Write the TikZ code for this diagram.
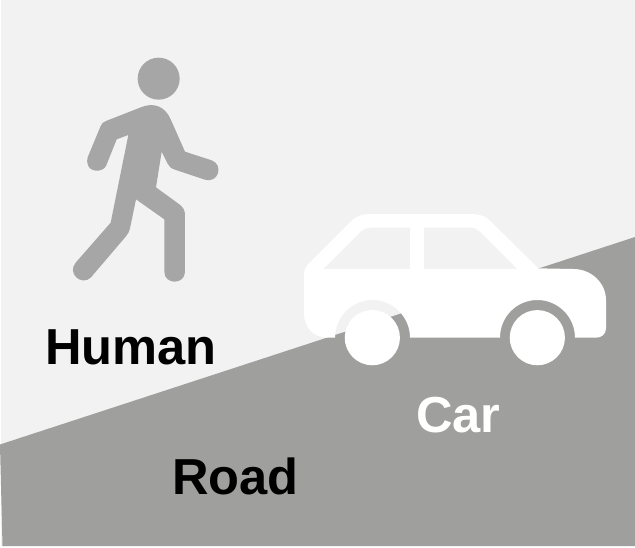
\documentclass[tikz,border=0pt]{standalone}
\usepackage{fontspec}
\setmainfont{Liberation Sans}
\definecolor{skygray}{HTML}{F2F2F2}
\definecolor{roadgray}{HTML}{9F9F9D}
\definecolor{mangray}{HTML}{A6A6A6}
\tikzset{
  lab/.style={anchor=base west,inner sep=0pt,font=\fontsize{50.6}{50}\selectfont\bfseries},
  zoomed/.style={x=0.33333pt,y=-0.33333pt}
}
\begin{document}
\begin{tikzpicture}[x=1pt,y=-1pt]
\useasboundingbox (0,0) rectangle (635,547);
\fill[white] (0,0) rectangle (635,547);
\fill[skygray] (1,0) rectangle (635,546);
\fill[roadgray] (0,444.5) -- (635,237) -- (635,546) -- (2.5,546) -- cycle;
% person
\begin{scope}[shift={(60,40)},zoomed]
\fill[mangray] (296,116) circle[radius=21pt];
\fill[mangray]
  (138,378) .. controls (128,400) and (72,400) .. (83,352)
  -- (122,258) .. controls (125,250) and (130,246) .. (138,243)
  -- (245,201) .. controls (280,187) and (315,198) .. (332,238)
  -- (375,335) -- (455,361)
  .. controls (490,373) and (478,430) .. (435,419)
  -- (345,389) .. controls (332,385) and (328,380) .. (323,371)
  -- (305,335) -- (288,442) -- (358,493)
  .. controls (370,502) and (375,512) .. (375,525)
  -- (375,695) .. controls (375,735) and (313,735) .. (313,695)
  -- (313,538) -- (228,478) -- (210,565)
  .. controls (208,575) and (204,582) .. (197,590)
  -- (93,712) .. controls (65,740) and (20,700) .. (47,668)
  -- (152,548) -- (205,285) -- (170,298) -- cycle;
\end{scope}
% car
\begin{scope}[shift={(290,200)},zoomed]
\fill[white,even odd rule]
  (42,225) .. controls (42,208) and (48,198) .. (60,187)
  -- (185,62) .. controls (200,48) and (218,42) .. (240,42)
  -- (545,42) .. controls (568,42) and (586,48) .. (600,62)
  -- (745,205) -- (850,207)
  .. controls (905,207) and (948,250) .. (948,300)
  -- (948,385) .. controls (948,402) and (935,413) .. (918,413)
  -- (855,413) .. controls (855,350.6) and (804.4,300) .. (742,300)
  .. controls (679.6,300) and (630,350.6) .. (630,413)
  -- (360,413) .. controls (360,350.6) and (309.4,300) .. (247,300)
  .. controls (184.6,300) and (135,350.6) .. (135,413)
  -- (110,413) .. controls (70,413) and (42,380) .. (42,340) -- cycle
  (100,207) -- (212,95) .. controls (220,87) and (230,83) .. (242,83)
  -- (360,83) -- (360,207) -- cycle
  (402,207) -- (402,83) -- (542,83) .. controls (555,83) and (563,87) .. (570,95)
  -- (682,207) -- cycle;
\fill[white] (247,413) circle[radius=27.6pt];
\fill[white] (742,413) circle[radius=27.6pt];
\end{scope}
\node[lab,text=black] (human) at (45,364) {Human};
\node[lab,text=black] (road) at (172,494) {Road};
\node[lab,text=white] (car) at (416,432) {Car};
\end{tikzpicture}
\end{document}
